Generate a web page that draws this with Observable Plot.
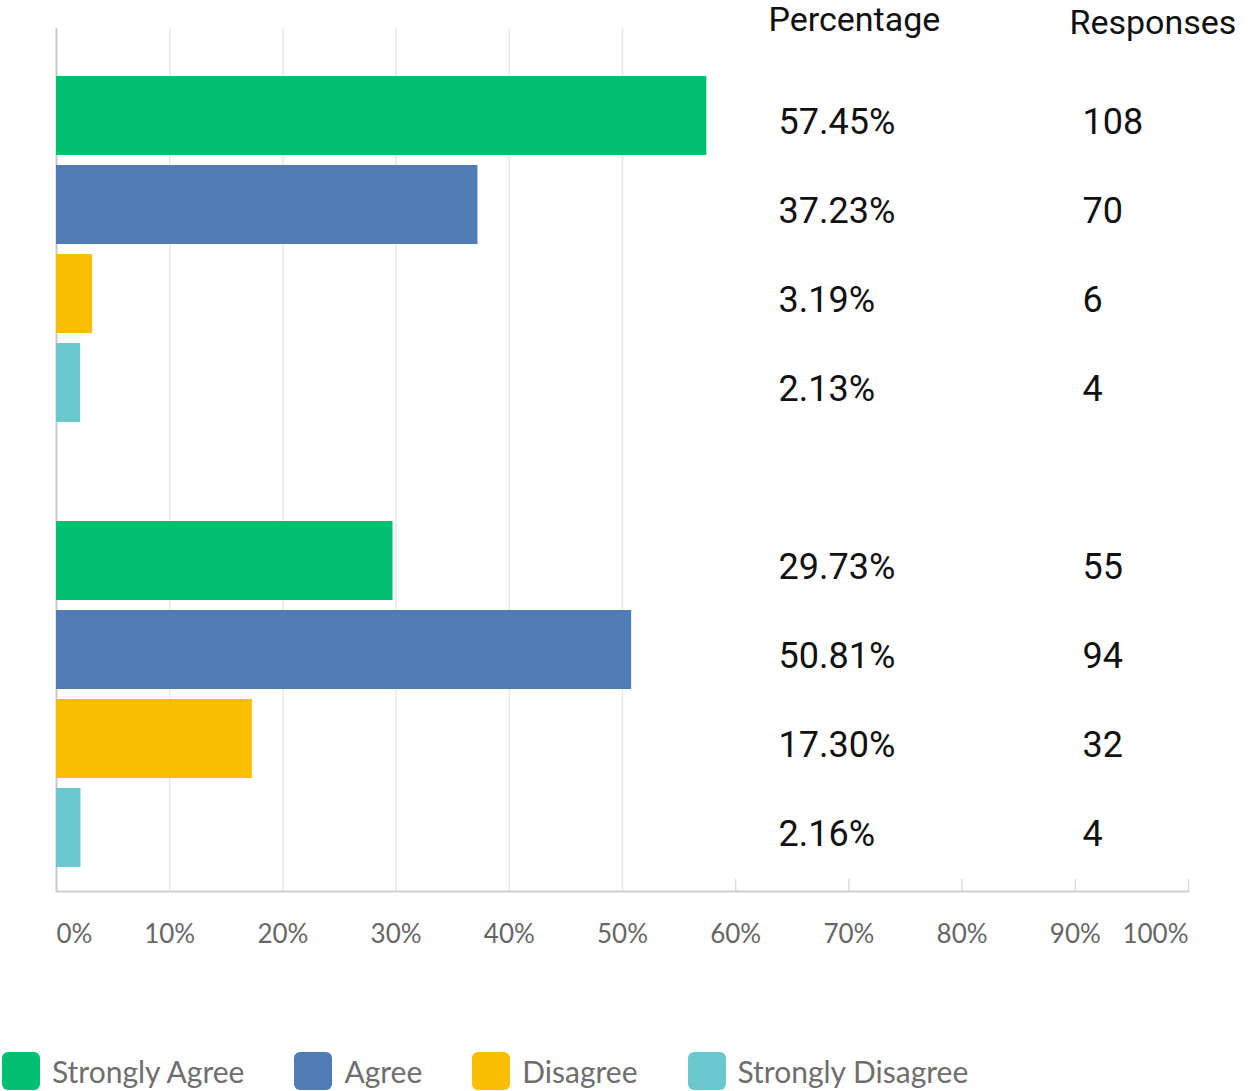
<!DOCTYPE html>
<html><head><meta charset="utf-8">
<script src="https://cdn.jsdelivr.net/npm/d3@7"></script>
<script src="https://cdn.jsdelivr.net/npm/@observablehq/plot@0.6"></script>
<style>
body{margin:0;background:#fff;}
#legend{display:flex;align-items:center;margin-top:52px;margin-left:2px;font-family:Lato,sans-serif;font-size:30px;color:#6e6e6e;height:38px;}
.item{display:flex;align-items:center;margin-right:50px}
.sw{width:38px;height:38px;border-radius:6px;margin-right:12px}
</style></head><body><div id="chart"></div><div id="legend"></div>
<script>
const questions = ["Q1", "Q2"];
const categories = ["Strongly Agree", "Agree", "Disagree", "Strongly Disagree"];
const colors = ["#00BF6F", "#507CB6", "#F9BE00", "#6BC8CD"];
const percentQ1 = [57.45, 37.23, 3.19, 2.13];
const responsesQ1 = [108, 70, 6, 4];
const percentQ2 = [29.73, 50.81, 17.30, 2.16];
const responsesQ2 = [55, 94, 32, 4];
const tickValues = [0, 10, 20, 30, 40, 50, 60, 70, 80, 90, 100];
const headers = ["Percentage", "Responses"];

const pcts = [percentQ1, percentQ2];
const resps = [responsesQ1, responsesQ2];
const rows = [];
questions.forEach((q, qi) => categories.forEach((c, ci) => rows.push({
  key: q + "|" + c, cat: c, pct: pcts[qi][ci], resp: resps[qi][ci]
})));
const yDomain = [...rows.slice(0, 4).map(d => d.key), "gap", ...rows.slice(4).map(d => d.key)];
const fmt = d => d + "%";
const RB = "Roboto";
const AX = "Lato, sans-serif";

const chart = Plot.plot({
  width: 1255, height: 1000,
  marginLeft: 56, marginRight: 67, marginTop: 28, marginBottom: 109,
  x: {domain: [0, 100], axis: null},
  y: {type: "band", domain: yDomain, range: [66, 878], padding: 0.11, axis: null},
  color: {domain: categories, range: colors},
  style: {fontFamily: "Roboto", background: "#fff"},
  marks: [
    Plot.ruleX(tickValues.filter(t => t > 0 && t <= 50), {stroke: "#e8e8e8", strokeWidth: 1.5}),
    Plot.ruleX(tickValues.filter(t => t > 50), {stroke: "#dcdcdc", strokeWidth: 1.5, insetTop: 851}),
    Plot.ruleX([0], {stroke: "#c8c8c8", strokeWidth: 2}),
    Plot.frame({anchor: "bottom", stroke: "#cfcfcf", strokeWidth: 2}),
    Plot.barX(rows, {x: "pct", y: "key", fill: "cat"}),
    Plot.text(rows, {y: "key", text: d => d.pct.toFixed(2) + "%", frameAnchor: "right", dx: -410, dy: 6, textAnchor: "start", fontSize: 36, fill: "#111", fontFamily: RB}),
    Plot.text(rows, {y: "key", text: d => String(d.resp), frameAnchor: "right", dx: -106, dy: 6, textAnchor: "start", fontSize: 36, fill: "#111", fontFamily: RB}),
    Plot.text([headers[0]], {text: d => d, frameAnchor: "top-right", dx: -420, dy: -22, textAnchor: "start", fontSize: 34, fill: "#111", fontFamily: RB}),
    Plot.text([headers[1]], {text: d => d, frameAnchor: "top-right", dx: -119, dy: -19, textAnchor: "start", fontSize: 34, fill: "#111", fontFamily: RB}),
    Plot.text(tickValues.filter(t => t === 0), {x: d => d, text: fmt, frameAnchor: "bottom", dy: 51, textAnchor: "start", fontSize: 26, fill: "#666", fontFamily: AX}),
    Plot.text(tickValues.filter(t => t > 0 && t < 100), {x: d => d, text: fmt, frameAnchor: "bottom", dy: 51, textAnchor: "middle", fontSize: 26, fill: "#666", fontFamily: AX}),
    Plot.text(tickValues.filter(t => t === 100), {x: d => d, text: fmt, frameAnchor: "bottom", dy: 51, textAnchor: "end", fontSize: 26, fill: "#666", fontFamily: AX})
  ]
});
document.getElementById("chart").appendChild(chart);

const legend = document.getElementById("legend");
categories.forEach((c, i) => {
  const item = document.createElement("div");
  item.className = "item";
  const sw = document.createElement("div");
  sw.className = "sw";
  sw.style.background = colors[i];
  const lab = document.createElement("span");
  lab.textContent = c;
  item.appendChild(sw); item.appendChild(lab);
  legend.appendChild(item);
});
</script>
</body></html>
